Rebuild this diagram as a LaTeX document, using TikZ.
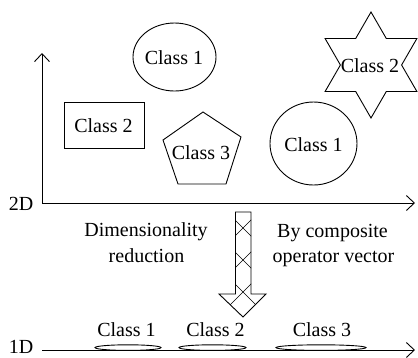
\documentclass[tikz,border=0pt]{standalone}
\usepackage{fontspec}
\setmainfont{Liberation Serif}
\usetikzlibrary{arrows.meta}
\begin{document}
\begin{tikzpicture}[x=1pt,y=-1pt,line width=0.9pt,
  lbl/.style={font=\fontsize{20}{26}\selectfont,inner sep=0pt},
  axisline/.style={{Straight Barb[length=8pt,width=15pt,line width=0.9pt]}-{Straight Barb[length=8pt,width=15pt,line width=0.9pt]}},
  axisone/.style={-{Straight Barb[length=8pt,width=15pt,line width=0.9pt]}},
  hatch/.style={line width=0.6pt}]
\useasboundingbox (0,0) rectangle (418,357);
% 2D axes
\coordinate (ytop) at (42,53);
\coordinate (o2) at (42,203);
\coordinate (xr) at (415,203);
\draw[axisline] (ytop) -- (o2) -- (xr);
\node[lbl] (l2d) at (21,203.5) {2D};
% shapes
\draw (174.5,57) ellipse [x radius=41.5pt,y radius=34pt];
\node[lbl] (c1a) at (174,57.5) {Class 1};
\draw (64,102) rectangle (144,148);
\node[lbl] (c2a) at (103.5,125.5) {Class 2};
\draw (203,112) -- (241,137) -- (226,184) -- (178,184) -- (163,140) -- cycle;
\node[lbl] (c3a) at (201,153) {Class 3};
\draw[shift={(371,65)}] (90:53) -- (120:30.6) -- (150:53) -- (180:30.6) -- (210:53) -- (240:30.6)
  -- (270:53) -- (300:30.6) -- (330:53) -- (0:30.6) -- (30:53) -- (60:30.6) -- cycle;
\node[lbl] (c2b) at (370,65.5) {Class 2};
\draw (313.5,143.5) ellipse [x radius=43.5pt,y radius=41.5pt];
\node[lbl] (c1b) at (313.5,144.5) {Class 1};
% texts
\node[lbl,anchor=base] (dim1) at (146,236) {Dimensionality};
\node[lbl,anchor=base] (dim2) at (146.5,262) {reduction};
\node[lbl,anchor=base] (by1) at (332.5,237) {By composite};
\node[lbl,anchor=base] (by2) at (333.5,262) {operator vector};
% block arrow
\coordinate (tip) at (243,317);
\begin{scope}
\clip (235.5,212) -- (251,212) -- (251,294) -- (266,294) -- (tip) -- (219,294) -- (235.5,294) -- cycle;
\foreach \k in {-5,...,5} {
  \draw[hatch] (243+32*\k-130,98) -- ++(260,260);
  \draw[hatch] (243+32*\k+130,98) -- ++(-260,260);
}
\end{scope}
\draw (235.5,212) -- (251,212) -- (251,294) -- (266,294) -- (tip) -- (219,294) -- (235.5,294) -- cycle;
% 1D axis
\coordinate (o1) at (42,350);
\coordinate (x1) at (415,350);
\draw (128,347.6) ellipse [x radius=33pt,y radius=2.8pt];
\draw (212.5,347.6) ellipse [x radius=33.5pt,y radius=2.8pt];
\draw (321,347.6) ellipse [x radius=45pt,y radius=2.8pt];
\draw[axisone] (o1) -- (x1);
\node[lbl] (l1d) at (21,347) {1D};
\node[lbl,anchor=base] (b1) at (126.5,336) {Class 1};
\node[lbl,anchor=base] (b2) at (215.5,336) {Class 2};
\node[lbl,anchor=base] (b3) at (322,336) {Class 3};
\end{tikzpicture}
\end{document}
